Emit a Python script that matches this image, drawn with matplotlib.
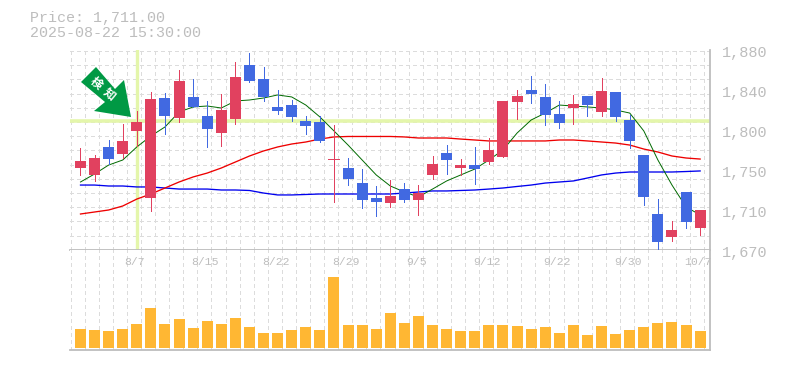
import numpy as np
import matplotlib
matplotlib.use("Agg")
import matplotlib.pyplot as plt
from matplotlib.patches import Polygon
from matplotlib.transforms import Affine2D

# ---- data ----
# The price scale runs 1,670 to 1,880; readings were taken with 1.05 yen per pixel
def P(*px):
    return [round(1880 - (v - 50) * 1.05, 1) for v in px]

opens = P(168,175,159,154,131,198,116,118,107,129,133,119,81,97,111,117,126,141,159,179,200,202,203,200,200,175,160,168,169,162,157,102,94,115,123,108,105,112,117,141,197,242,237,222,228)
closes = P(161,158,147,141,122,99,98,81,97,116,110,77,65,79,107,105,121,122,159,168,183,198,196,189,193,164,153,165,165,150,101,96,90,97,114,104,96,91,92,120,155,214,230,192,210)
highs = P(148,155,140,124,111,92,93,70,79,101,94,62,53,67,90,100,116,116,125,158,169,186,180,183,185,156,145,159,147,138,101,90,76,84,101,95,96,78,92,115,155,199,221,192,210)
lows = P(175,181,164,158,146,211,134,122,107,147,146,124,82,101,114,121,134,142,202,185,208,216,207,202,215,179,174,175,184,164,157,119,103,125,128,124,116,116,121,148,205,249,241,228,235)
up = [1,1,0,1,1,1,0,1,0,0,1,1,0,0,0,0,0,0,1,0,0,0,1,0,1,1,0,1,0,1,1,1,0,0,0,1,0,1,0,0,0,0,1,0,1]

ma_short = P(182,174,165,160,147,136,127,112,107,106,108,101,100,98,95,97,105,117,131,145,160,175,186,192,197,189,181,175,169,160,150,133,120,113,105,106,107,108,110,113,131,160,185,207,215)
ma_mid = P(214,212,210,206,199,194,188,182,177,173,168,162,156,151,147,144,142,139,137,136.5,136.5,136.5,136.5,137,138,138,138,139,140,141,141,141,141,141,140,140,141,142,143,145,149,152,156,158,159)
ma_long = P(185,185,186,186,187,187,188,189,189,189,190,190,190.5,193,195,195,194.5,194,194,194,194,194,194,193,192,191,191,190.5,190,189,188,186.5,185,183,182,181,178,175,173,172,172,172,172,171.5,171)

volume = [19,18,17,19,24,40,24,29,20,27,24,30,21,15,15,18,21,18,71,23,23,19,35,25,32,23,19,17,17,23,23,22,19,21,15,23,13,22,14,18,21,25,26,23,17]

date_labels = ["8/7","8/15","8/22","8/29","9/5","9/12","9/22","9/30","10/7"]
date_index = [4,9,14,19,24,29,34,39,44]
price_labels = ["1,880","1,840","1,800","1,750","1,710","1,670"]
price_ticks = [1880,1838,1796,1754,1712,1670]
signal_price = 1805
signal_index = 4

# ---- style ----
W, H = 785, 370
GREY = "#BDBDBD"
GRID = "#DCDCDC"
RED = "#E1415F"
BLUE = "#4169E1"
FONT = "Liberation Mono"
plt.rcParams["font.family"] = [FONT, "Noto Sans CJK JP", "DejaVu Sans"]

fig = plt.figure(figsize=(W/100, H/100), dpi=100, facecolor="white")
L, R = 70/W, 710/W
ax = fig.add_axes([L, 1-250/H, R-L, 200/H])
axv = fig.add_axes([L, 1-350/H, R-L, 100/H], sharex=ax)

xs = np.arange(len(opens))
ax.set_xlim(-0.745, 44.7)
ax.set_ylim(1670, 1880)
axv.set_ylim(-2, 98)

dash = (0, (4, 4))
grid_x = np.arange(46) - 0.7
grid_y = 1880 - (np.arange(15) * 14.2 + 1) * 1.05
for a in (ax, axv):
    a.set_xticks(grid_x)
    a.tick_params(length=0, labelbottom=False, labelleft=False)
    a.set_axisbelow(True)
    a.xaxis.grid(True, color=GRID, lw=0.72, linestyle=dash, antialiased=False)
    for s in ("left", "top"):
        a.spines[s].set_visible(False)
    for s in ("right", "bottom"):
        a.spines[s].set_color(GREY)
        a.spines[s].set_linewidth(1.3)
ax.set_yticks(grid_y)
ax.yaxis.grid(True, color=GRID, lw=0.72, linestyle=dash, antialiased=False)
axv.set_yticks([])

# signal cross-hair
ax.axhline(signal_price, color="#E4F6AB", lw=2.6, zorder=1)
ax.axvline(signal_index, ymin=0.01, color="#E4F6AB", lw=2.4, zorder=1)

# moving averages
ax.plot(xs, ma_long, color="#0000EE", lw=0.95, zorder=2)
ax.plot(xs, ma_mid, color="#EE0000", lw=0.95, zorder=2)
ax.plot(xs, ma_short, color="#006A00", lw=0.7, zorder=2)

# candles
for i in xs:
    c = RED if up[i] else BLUE
    ax.vlines(i, lows[i], highs[i], color=c, lw=0.72, zorder=3, antialiased=False)
    body = abs(closes[i] - opens[i])
    if body < 0.5:
        ax.hlines(opens[i], i-0.39, i+0.39, color=c, lw=0.72, zorder=3, antialiased=False)
    else:
        ax.bar(i, body, bottom=min(opens[i], closes[i]), width=0.78, color=c, lw=0, zorder=4)

# volume
axv.bar(xs, volume, width=0.78, color="#FFB733", lw=0, zorder=3)

# date labels sit inside the volume panel
for i, t in zip(date_index, date_labels):
    axv.annotate(t, xy=(i, 1), xycoords=axv.get_xaxis_transform(),
                 xytext=(-1.5, -8.6), textcoords="offset points",
                 fontsize=8.2, color=GREY, ha="center", va="center", zorder=5,
                 annotation_clip=False)

# price labels
for p, t in zip(price_ticks, price_labels):
    ax.annotate(t, xy=(1, p), xycoords=ax.get_yaxis_transform(),
                xytext=(8.6, -1.8), textcoords="offset points",
                fontsize=11, color=GREY, ha="left", va="center", annotation_clip=False)

# header
fig.text(30/W, 1-18/H, "Price: 1,711.00", fontsize=10.8, color=GREY, ha="left", va="center")
fig.text(30/W, 1-33/H, "2025-08-22 15:30:00", fontsize=10.8, color=GREY, ha="left", va="center")

# signal arrow badge (figure pixels, y measured from the top)
to_fig = Affine2D().scale(1/W, -1/H).translate(0, 1) + fig.transFigure
badge = [(96,67),(81,82),(105,102),(94,111),(131,117),(124,80),(115,89)]
fig.add_artist(Polygon(badge, closed=True, facecolor="#009944", edgecolor="none",
                       transform=to_fig, zorder=6))
fig.text(96/W, 1-83.5/H, "検", fontsize=8.5, fontweight="bold", color="white",
         family=["Noto Sans CJK JP"], rotation=-40, ha="center", va="center", zorder=7)
fig.text(109/W, 1-94/H, "知", fontsize=8.5, fontweight="bold", color="white",
         family=["Noto Sans CJK JP"], rotation=-40, ha="center", va="center", zorder=7)

fig.savefig("out.png", dpi=100, facecolor="white")
